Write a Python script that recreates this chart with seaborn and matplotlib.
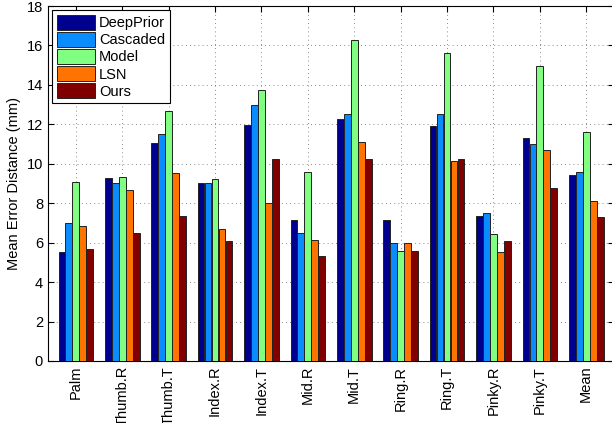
import matplotlib
matplotlib.use("Agg")
import matplotlib.pyplot as plt
import seaborn as sns
import pandas as pd

categories = ["Palm", "Thumb.R", "Thumb.T", "Index.R", "Index.T", "Mid.R",
              "Mid.T", "Ring.R", "Ring.T", "Pinky.R", "Pinky.T", "Mean"]
methods = ["DeepPrior", "Cascaded", "Model", "LSN", "Ours"]
deepprior = [5.55, 9.27, 11.03, 9.00, 11.95, 7.15, 12.28, 7.17, 11.92, 7.36, 11.30, 9.45]
cascaded = [6.99, 9.03, 11.50, 9.00, 12.97, 6.49, 12.50, 6.00, 12.50, 7.51, 11.00, 9.59]
model = [9.07, 9.31, 12.69, 9.22, 13.74, 9.57, 16.30, 5.60, 15.62, 6.44, 14.95, 11.59]
lsn = [6.84, 8.66, 9.54, 6.69, 8.00, 6.12, 11.08, 5.97, 10.15, 5.54, 10.71, 8.12]
ours = [5.69, 6.49, 7.36, 6.07, 10.25, 5.32, 10.22, 5.58, 10.24, 6.08, 8.78, 7.32]
colors = ["#00008F", "#0A8CFF", "#80FF80", "#FF7300", "#800000"]

series = [deepprior, cascaded, model, lsn, ours]
rows = []
for m, vals in zip(methods, series):
    for c, v in zip(categories, vals):
        rows.append({"cat": c, "method": m, "value": v})
df = pd.DataFrame(rows)

plt.rcParams["font.family"] = ["Liberation Sans", "DejaVu Sans"]
fs = 10.5
fig = plt.figure(figsize=(6.12, 4.23), dpi=100)
ax = fig.add_axes([0.0784, 0.1466, 0.925, 0.8392])

sns.barplot(data=df, x="cat", y="value", hue="method", order=categories,
            hue_order=methods, palette=colors, width=0.75, gap=0.03,
            edgecolor="#222222", linewidth=0.7, saturation=1, ax=ax,
            errorbar=None, zorder=3)

ax.set_xlim(-0.6, 11.6)
ax.set_ylim(0, 18)
ax.set_yticks(range(0, 19, 2))
ax.set_xticks(range(len(categories)))
ax.set_xticklabels(categories, rotation=90, fontsize=fs)
ax.tick_params(axis="y", labelsize=fs)
ax.tick_params(direction="in", length=4, top=True, right=True)
ax.set_xlabel("")
ax.set_ylabel("Mean Error Distance (mm)", fontsize=fs)
ax.grid(True, linestyle=(0, (1, 4)), color="#666666", linewidth=0.6, zorder=0)
ax.set_axisbelow(True)
for s in ax.spines.values():
    s.set_linewidth(0.8)

leg = ax.legend(loc="upper left", fontsize=fs, frameon=True, fancybox=False,
                edgecolor="black", framealpha=1, handlelength=2.6,
                handleheight=1.2, handletextpad=0.3, labelspacing=0.12,
                borderpad=0.3, borderaxespad=0.3)
leg.get_frame().set_linewidth(0.8)

fig.savefig("out.png", dpi=100)
